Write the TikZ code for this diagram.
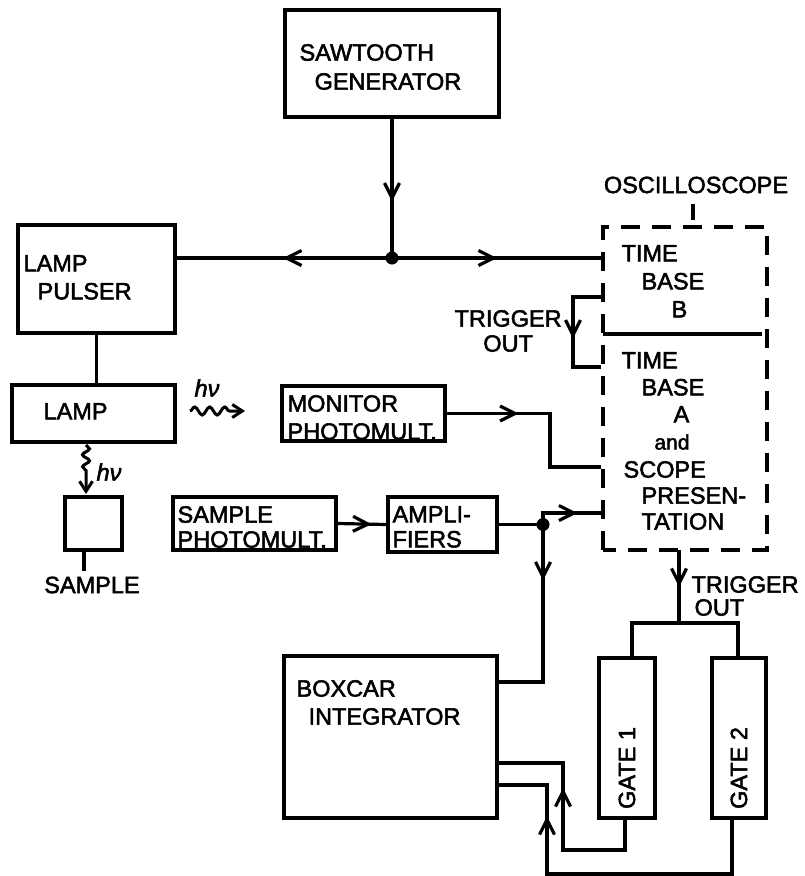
\documentclass[tikz,border=0pt]{standalone}
\usepackage{fontspec}
\setmainfont{Liberation Sans}[FakeBold=2.2,AutoFakeBold=false]
\newfontfamily\heavy{Liberation Sans}[FakeBold=2.2]
\usetikzlibrary{arrows.meta,decorations.markings,decorations.pathmorphing}
\begin{document}
\begin{tikzpicture}[x=1pt,y=-1pt,
  line width=3.2pt,
  box/.style={draw,line width=3.2pt,inner sep=0pt},
  txt/.style={font=\heavy\fontsize{23.5}{#1}\selectfont,align=left,inner sep=0pt,anchor=north west},
  txt/.default=28,
  lbl/.style={font=\heavy\fontsize{23.5}{28}\selectfont,inner sep=0pt},
  tip/.tip={Straight Barb[length=15pt,width=15pt]},
  marr/.style={postaction={decorate,decoration={markings,mark=at position #1 with {\arrow{tip}}}}},
  dot/.style={fill,circle,inner sep=0pt,minimum size=13pt},
  wave/.style={line width=3pt,-{Straight Barb[length=10pt,width=13pt]},decorate}
]
\useasboundingbox (0,0) rectangle (805,876);

% boxes
\node[box,minimum width=214,minimum height=107] (saw) at (392,63.5) {};
\node[box,minimum width=157,minimum height=108] (pulser) at (96.5,279) {};
\node[box,minimum width=163,minimum height=57] (lamp) at (93.5,413.5) {};
\node[box,minimum width=163,minimum height=55] (monitor) at (363.5,413.5) {};
\node[box,minimum width=57,minimum height=53] (sample) at (93.5,523.5) {};
\node[box,minimum width=163,minimum height=53] (sphot) at (254.5,523.5) {};
\node[box,minimum width=109,minimum height=55] (amp) at (442.5,524.5) {};
\node[draw,dash pattern=on 19pt off 12pt,dash phase=6pt,line width=3.2pt,inner sep=0pt,minimum width=164,minimum height=323] (scope) at (685,388.5) {};
\node[box,minimum width=213,minimum height=162] (boxcar) at (390.5,737) {};
\node[box,minimum width=56,minimum height=160] (gate1) at (627,738) {};
\node[box,minimum width=54,minimum height=160] (gate2) at (739,738) {};

% texts
\node[txt=29] (sawt) at (298,42.6) {SAWTOOTH\\\hspace*{15pt}GENERATOR};
\node[txt] (pult) at (22,253.6) {LAMP\\\hspace*{14pt}PULSER};
\node[txt] (lampt) at (42,401.6) {LAMP};
\node[txt] (mont) at (286,393.6) {MONITOR\\PHOTOMULT.};
\node[txt=25] (spht) at (176,504.6) {SAMPLE\\PHOTOMULT.};
\node[txt=25] (ampt) at (391,504.6) {AMPLI-\\FIERS};
\node[lbl] (samplet) at (92,585) {SAMPLE};
\node[lbl] (osc) at (696,185) {OSCILLOSCOPE};
\node[txt] (tbb) at (620,243.6) {TIME\\\hspace*{20pt}BASE\\\hspace*{50pt}B};
\node[txt=25,align=center] (trig1) at (453,308.6) {TRIGGER\\OUT};
\node[txt=27] (tba) at (620,350.6) {TIME\\\hspace*{20pt}BASE\\\hspace*{52pt}A};
\node[lbl,font=\heavy\fontsize{21}{24}\selectfont] (andt) at (672,442) {and};
\node[txt=26] (scp) at (622,459.6) {SCOPE\\\hspace*{18pt}PRESEN-\\\hspace*{18pt}TATION};
\node[txt=23] (trig2) at (690,574.6) {TRIGGER\\\hspace*{3pt}OUT};
\node[txt] (boxt) at (295,678.6) {BOXCAR\\\hspace*{12pt}INTEGRATOR};
\node[lbl,rotate=90] (g1t) at (627,768) {GATE 1};
\node[lbl,rotate=90] (g2t) at (739,768) {GATE 2};
\node[lbl,font=\heavy\fontsize{23.5}{28}\selectfont\itshape] (hv1) at (207,388) {hν};
\node[lbl,font=\heavy\fontsize{23.5}{28}\selectfont\itshape] (hv2) at (109,472) {hν};

% junctions and bend points
\coordinate (J1) at (392,258);
\coordinate (J2) at (543,524.5);
\coordinate (m2) at (550,467);
\coordinate (a1) at (543,513);
\coordinate (b1) at (543,682);
\coordinate (t1a) at (573,297);
\coordinate (t1b) at (573,367);
\coordinate (T1) at (679,550);
\coordinate (T2) at (679,623);
\coordinate (g1top) at (632,658);
\coordinate (g2top) at (738,658);
\coordinate (g1bot) at (625,818);
\coordinate (g2bot) at (732,818);
\coordinate (r1) at (563,850);
\coordinate (r2) at (547,874);
\coordinate (c1) at (563,763);
\coordinate (c2) at (547,785);
\coordinate (w1s) at (190,411);
\coordinate (w1e) at (245,411);
\coordinate (w2s) at (86,445);
\coordinate (w2e) at (86,494);
\coordinate (st) at (84,571);
\coordinate (osct) at (693,220);
\coordinate (dv) at (603,334);

% connectors
\draw[marr=83pt] (saw.south) -- (J1);
\draw[marr=109pt] (J1) -- (J1 -| pulser.east);
\draw[marr=105pt] (J1) -- (J1 -| scope.west);
\node[dot] at (J1) {};
\draw (pulser.south) -- (pulser.south |- lamp.north);
\draw[line join=miter,marr=72pt] (monitor.east) -| (m2) -- (m2 -| scope.west);
\draw[marr=34pt] (sphot.east) -- (amp.west);
\draw (amp.east) -- (J2);
\draw[line join=miter,marr=46pt] (J2) -- (a1) -- (a1 -| scope.west);
\draw[line join=miter,marr=56pt] (J2) -- (b1) -- (b1 -| boxcar.east);
\node[dot] at (J2) {};
\draw[line join=miter,marr=70pt] (t1a -| scope.west) -- (t1a) -- (t1b) -- (t1b -| scope.west);
\draw[marr=37pt] (T1) -- (T2);
\draw[line join=miter] (g1top) |- (T2) -| (g2top);
\draw[line join=miter,marr=156pt] (g1bot) |- (r1) -- (c1) -- (c1 -| boxcar.east);
\draw[line join=miter,marr=299pt] (g2bot) |- (r2) -- (c2) -- (c2 -| boxcar.east);
\draw (dv) -- ([xshift=-7pt]dv -| scope.east);
\draw ([yshift=-9pt]osct |- osc.south) -- (osct);
\draw (st |- sample.south) -- (st);
\draw[wave,decoration={snake,amplitude=4pt,segment length=15pt,post length=9pt}] (w1s) -- (w1e);
\draw[wave,decoration={snake,amplitude=3.5pt,segment length=12pt,post length=22pt}] (w2s) -- (w2e);
\end{tikzpicture}
\end{document}
